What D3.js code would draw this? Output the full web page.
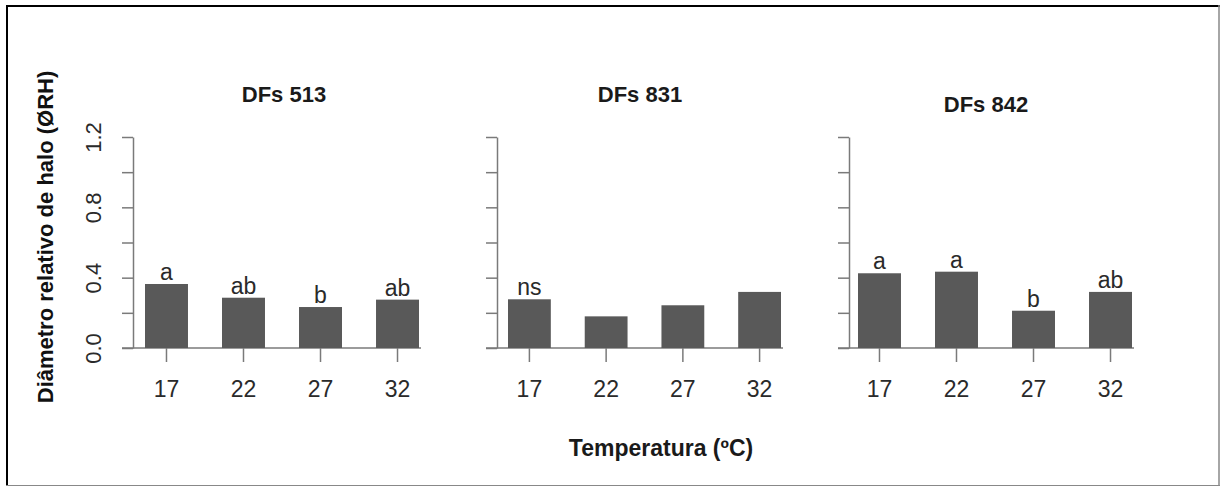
<!DOCTYPE html>
<html>
<head>
<meta charset="utf-8">
<script src="https://cdn.jsdelivr.net/npm/d3@7"></script>
<style>
  html, body { margin: 0; padding: 0; background: #fff; }
  svg { display: block; font-family: "Liberation Sans", Arial, sans-serif; }
</style>
</head>
<body>
<div id="chart"></div>
<script>
// dados
const temperaturas = ['17', '22', '27', '32'];
const isolados = ['DFs 513', 'DFs 831', 'DFs 842'];
const rh513 = [0.364, 0.286, 0.233, 0.275];
const rh831 = [0.277, 0.180, 0.243, 0.319];
const rh842 = [0.425, 0.434, 0.212, 0.319];
const letras513 = ['a', 'ab', 'b', 'ab'];
const letras831 = ['ns', '', '', ''];
const letras842 = ['a', 'a', 'b', 'ab'];
const yTicks = [0, 0.2, 0.4, 0.6, 0.8, 1.0, 1.2];
const yTickLabels = ['0.0', '', '0.4', '', '0.8', '', '1.2'];

const width = 1220, height = 486;
const svg = d3.select('#chart').append('svg')
  .attr('width', width)
  .attr('height', height);

// moldura
svg.append('line').attr('x1', 6).attr('x2', 1220).attr('y1', 6).attr('y2', 6)
  .attr('stroke', '#000').attr('stroke-width', 2);
svg.append('line').attr('x1', 7).attr('x2', 7).attr('y1', 5).attr('y2', 486)
  .attr('stroke', '#000').attr('stroke-width', 2);
svg.append('line').attr('x1', 1219).attr('x2', 1219).attr('y1', 5).attr('y2', 486)
  .attr('stroke', '#888').attr('stroke-width', 1.5);
svg.append('line').attr('x1', 6).attr('x2', 1220).attr('y1', 485.5).attr('y2', 485.5)
  .attr('stroke', '#888').attr('stroke-width', 1);

const y = d3.scaleLinear().domain([0, 1.2]).range([348, 137]);

const paineis = [
  { nome: isolados[0], valores: rh513, letras: letras513, axisX: 133, x0: 145, x1: 419, titleX: 284, titleY: 101.5, labels: true },
  { nome: isolados[1], valores: rh831, letras: letras831, axisX: 497, x0: 508, x1: 781, titleX: 640, titleY: 101.5, labels: false },
  { nome: isolados[2], valores: rh842, letras: letras842, axisX: 849, x0: 858, x1: 1132, titleX: 986, titleY: 111.5, labels: false }
];

const axisColor = '#7a7a7a';
const textColor = '#2a2a2a';

paineis.forEach(p => {
  const x = d3.scaleBand().domain(temperaturas).range([p.x0, p.x1])
    .paddingInner(0.442).paddingOuter(0);
  const g = svg.append('g');
  const dados = temperaturas.map((t, i) => ({ t, v: p.valores[i], l: p.letras[i] }));

  // eixo y
  const yAxis = d3.axisLeft(y).tickValues(yTicks).tickSize(11).tickSizeOuter(0)
    .tickFormat((d, i) => p.labels ? yTickLabels[i] : '');
  const ya = g.append('g').attr('transform', `translate(${p.axisX},0)`).call(yAxis);
  ya.select('.domain').attr('stroke', axisColor).attr('stroke-width', 1.5);
  ya.selectAll('.tick line').attr('stroke', axisColor).attr('stroke-width', 1.5);
  ya.selectAll('.tick text')
    .attr('fill', textColor)
    .attr('font-size', 22)
    .attr('text-anchor', 'middle')
    .attr('x', 0).attr('dy', 0)
    .attr('transform', 'translate(-32,0) rotate(-90)');

  // linha de base
  g.append('line')
    .attr('x1', p.axisX - 11).attr('x2', p.x1 + 2)
    .attr('y1', y(0)).attr('y2', y(0))
    .attr('stroke', axisColor).attr('stroke-width', 1.5);

  // barras
  g.selectAll('rect.bar').data(dados).join('rect')
    .attr('class', 'bar')
    .attr('x', d => x(d.t))
    .attr('width', x.bandwidth())
    .attr('y', d => y(d.v))
    .attr('height', d => y(0) - y(d.v))
    .attr('fill', '#595959');

  // letras de significância
  g.selectAll('text.letra').data(dados).join('text')
    .attr('class', 'letra')
    .attr('x', d => x(d.t) + x.bandwidth() / 2)
    .attr('y', d => y(d.v) - 4)
    .attr('text-anchor', 'middle')
    .attr('font-size', 23)
    .attr('fill', textColor)
    .text(d => d.l);

  // eixo x
  const xAxis = d3.axisBottom(x).tickSize(14).tickSizeOuter(0);
  const xa = g.append('g').attr('transform', `translate(0,${y(0)})`).call(xAxis);
  xa.select('.domain').remove();
  xa.selectAll('.tick line').attr('stroke', axisColor).attr('stroke-width', 1.5);
  xa.selectAll('.tick text')
    .attr('fill', textColor)
    .attr('font-size', 23)
    .attr('dy', 0)
    .attr('y', 49);

  // título do painel
  g.append('text')
    .attr('x', p.titleX).attr('y', p.titleY)
    .attr('text-anchor', 'middle')
    .attr('font-size', 22)
    .attr('font-weight', 'bold')
    .attr('fill', '#1a1a1a')
    .text(p.nome);
});

// títulos dos eixos
svg.append('text')
  .attr('transform', 'translate(53,237) rotate(-90)')
  .attr('text-anchor', 'middle')
  .attr('font-size', 22)
  .attr('font-weight', 'bold')
  .attr('fill', '#111')
  .text('Diâmetro relativo de halo (ØRH)');

svg.append('text')
  .attr('x', 661).attr('y', 456)
  .attr('text-anchor', 'middle')
  .attr('font-size', 23)
  .attr('font-weight', 'bold')
  .attr('fill', '#1a1a1a')
  .text('Temperatura (ºC)');
</script>
</body>
</html>
